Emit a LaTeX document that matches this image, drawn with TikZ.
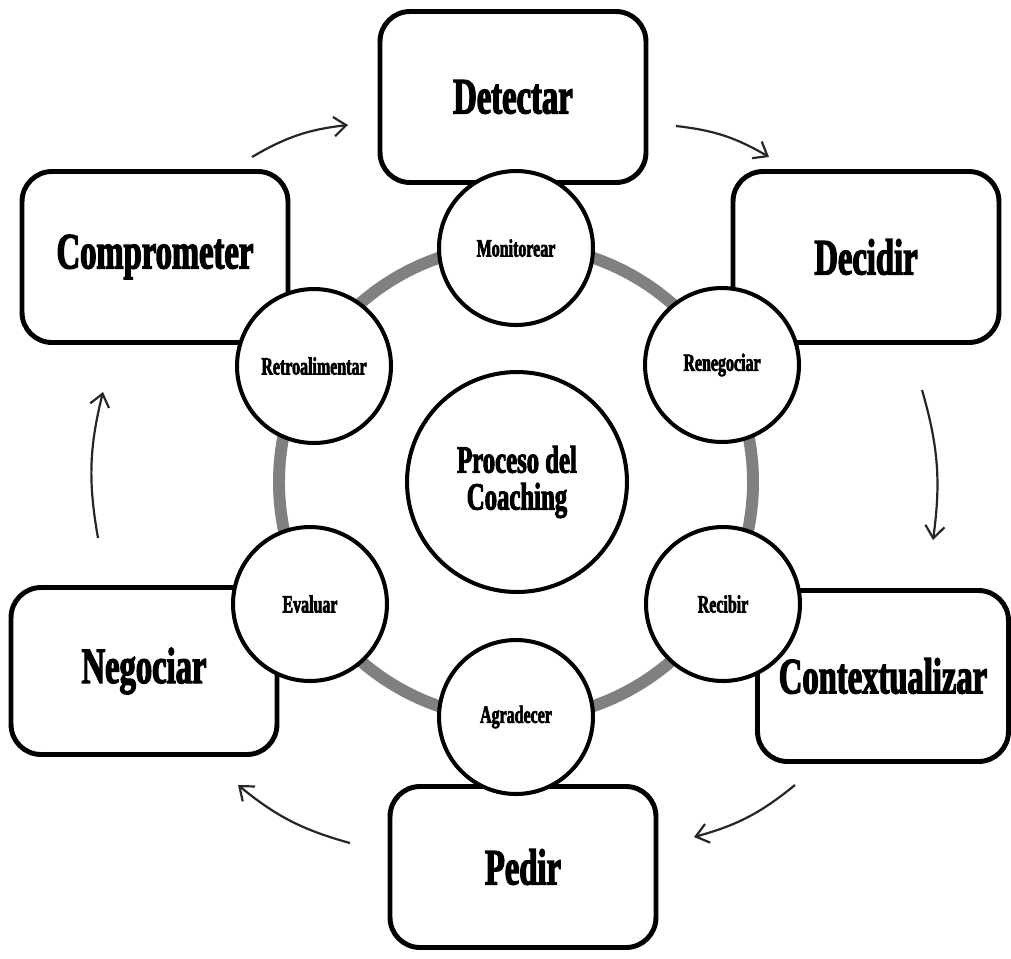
\documentclass[tikz,border=0pt]{standalone}
\usepackage{fontspec}
\usetikzlibrary{arrows.meta}
% Condensed heavy serif for every label
\newfontfamily\lblfont{Liberation Serif}[FakeStretch=0.64, FakeBold=2.4]
\definecolor{ringgray}{RGB}{128,128,128}

\begin{document}
\begin{tikzpicture}[x=0.02cm, y=0.02cm,
  stage/.style={draw, line width=2.8pt, rounded corners=0.6cm, fill=white,
    minimum width=5.32cm, minimum height=3.42cm, inner sep=0pt,
    font=\lblfont\bfseries\fontsize{29}{32}\selectfont},
  sub/.style={circle, draw, line width=2.3pt, fill=white, minimum size=3.08cm,
    inner sep=0pt, font=\lblfont\bfseries\fontsize{14.2}{16}\selectfont},
  core/.style={circle, draw, line width=2.3pt, fill=white, minimum size=4.4cm,
    inner sep=0pt, align=center,
    font=\lblfont\bfseries\fontsize{22}{21}\selectfont},
  cycle/.style={-{Straight Barb[length=7pt, width=11pt]}, line width=1.25pt,
    black!85, bend left=12},
]
\useasboundingbox (0,0) rectangle (1011,-958);

% outer stages
\node[stage] (detectar) at (513,-97) {Detectar};
\node[stage] (decidir) at (866,-257) {Decidir};
\node[stage, minimum width=5.02cm] (contexto) at (883,-676) {Contextualizar};
\node[stage, minimum height=3.22cm] (pedir) at (523,-867) {Pedir};
\node[stage, minimum height=3.34cm] (negociar) at (144,-671) {Negociar};
\node[stage] (comprometer) at (155,-257) {Comprometer};

% grey ring joining the inner steps
\coordinate (hub) at (516,-482);
\draw[line width=6.8pt, ringgray] (hub) circle[radius=237];

% inner steps
\node[sub] (monitorear) at (516,-248) {Monitorear};
\node[sub] (renegociar) at (722,-365) {Renegociar};
\node[sub] (recibir) at (723,-604) {Recibir};
\node[sub] (agradecer) at (516,-717) {Agradecer};
\node[sub] (evaluar) at (310,-604) {Evaluar};
\node[sub] (retro) at (314,-366) {Retroalimentar};

% centre
\node[core] (proceso) at (517,-482) {Proceso del\\Coaching};

% clockwise arrows between the stages
\coordinate (a1s) at (252,-157);  \coordinate (a1e) at (348,-125);
\coordinate (a2s) at (676,-126);  \coordinate (a2e) at (769,-157);
\coordinate (a3s) at (922,-390);  \coordinate (a3e) at (933,-540);
\coordinate (a4s) at (795,-785);  \coordinate (a4e) at (694,-837);
\coordinate (a5s) at (350,-843);  \coordinate (a5e) at (238,-785);
\coordinate (a6s) at (98,-538);   \coordinate (a6e) at (103,-392);
\draw[cycle] (a1s) to (a1e);
\draw[cycle] (a2s) to (a2e);
\draw[cycle] (a3s) to (a3e);
\draw[cycle] (a4s) to (a4e);
\draw[cycle] (a5s) to (a5e);
\draw[cycle] (a6s) to (a6e);
\end{tikzpicture}
\end{document}
